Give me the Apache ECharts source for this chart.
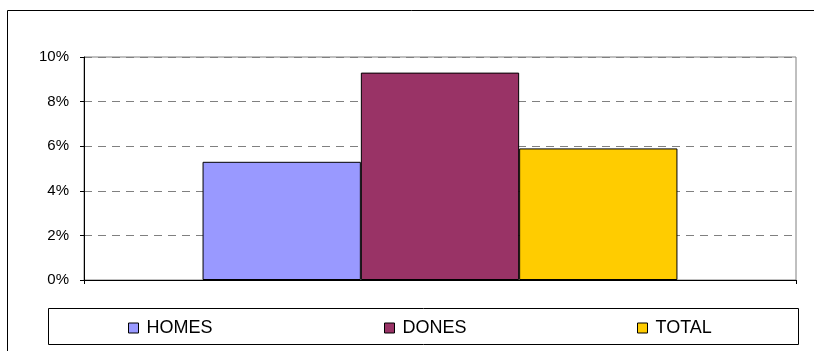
<!DOCTYPE html>
<html>
<head>
<meta charset="utf-8">
<script src="https://cdn.jsdelivr.net/npm/echarts@6/dist/echarts.min.js"></script>
<style>
  html, body { margin: 0; padding: 0; background: #fff; }
  #chart { width: 814px; height: 351px; }
</style>
</head>
<body>
<div id="chart"></div>
<script>
// values (fractions)
const seriesNames = ["HOMES", "DONES", "TOTAL"];
const seriesValues = [0.053, 0.093, 0.059];
const seriesColors = ["#9999FF", "#993366", "#FFCC00"];
const yTicks = [0, 0.02, 0.04, 0.06, 0.08, 0.1];

const myChart = echarts.init(document.getElementById("chart"));

var series = [];
for (var i = 0; i < seriesNames.length; i++) {
  series.push({
    name: seriesNames[i],
    type: "bar",
    data: [seriesValues[i]],
    barGap: "0%",
    barCategoryGap: "33.3%",
    itemStyle: {
      color: seriesColors[i],
      borderColor: "#000",
      borderWidth: 1,
    },
  });
}

// one legend per item so each sits where it does in the picture
var legendLeft = [128, 384, 637];
var legends = [];
for (var j = 0; j < seriesNames.length; j++) {
  legends.push({
    data: [seriesNames[j]],
    left: legendLeft[j],
    top: 319,
    padding: 0,
    icon: "rect",
    itemWidth: 10,
    itemHeight: 10,
    itemGap: 6,
    selectedMode: false,
    itemStyle: { borderColor: "#000", borderWidth: 1 },
    textStyle: {
      fontFamily: "Liberation Sans, Arial, sans-serif",
      fontSize: 18,
      color: "#000",
      padding: [0, 0, 0, 3],
    },
  });
}

var option = {
  animation: false,
  backgroundColor: "#fff",
  textStyle: { fontFamily: "Liberation Sans, Arial, sans-serif" },
  graphic: [
    {
      type: "rect",
      shape: { x: 7.5, y: 10.5, width: 830, height: 360 },
      style: { fill: "none", stroke: "#000", lineWidth: 1 },
      silent: true,
    },
    {
      type: "rect",
      shape: { x: 48.5, y: 308.5, width: 750, height: 36 },
      style: { fill: "none", stroke: "#000", lineWidth: 1 },
      silent: true,
    },
  ],
  legend: legends,
  grid: {
    show: true,
    left: 84,
    right: 18,
    top: 57,
    bottom: 71,
    borderColor: "#808080",
    borderWidth: 1,
  },
  xAxis: {
    type: "category",
    data: [""],
    axisLine: { lineStyle: { color: "#000", width: 1 } },
    axisTick: { show: true, length: 4, lineStyle: { color: "#000" } },
    axisLabel: { show: false },
  },
  yAxis: {
    type: "value",
    min: yTicks[0],
    max: yTicks[yTicks.length - 1],
    interval: 0.02,
    axisLine: { show: true, lineStyle: { color: "#000", width: 1 } },
    axisTick: { show: true, length: 4, lineStyle: { color: "#000" } },
    axisLabel: {
      margin: 15,
      fontSize: 15,
      color: "#000",
      formatter: function (v) {
        return Math.round(v * 100) + "%";
      },
    },
    splitLine: {
      show: true,
      lineStyle: { color: "#808080", type: [8, 6], width: 1 },
    },
  },
  series: series,
};
myChart.setOption(option);
</script>
</body>
</html>
